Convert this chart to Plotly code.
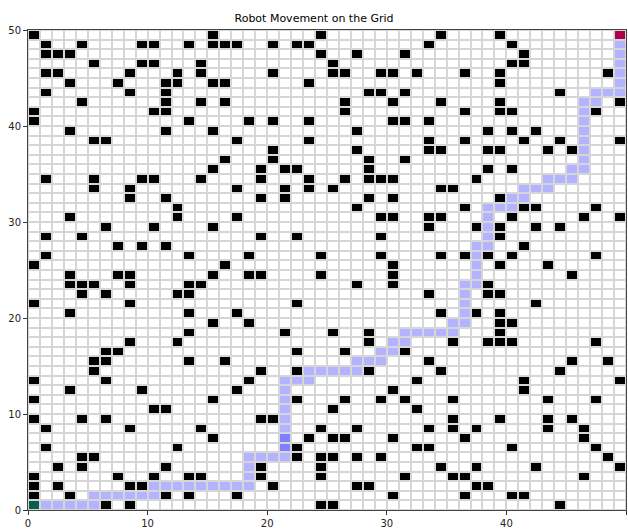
import numpy as np
import plotly.graph_objects as go

GRID_SIZE = 50

# Obstacle columns for each grid row (row index = y)
obstacles = {
    49: [0, 15, 24, 34, 39],
    48: [1, 4, 9, 10, 13, 15, 16, 17, 20, 22, 23, 33, 40],
    47: [1, 2, 3, 24, 27, 31, 41],
    46: [5, 9, 10, 14, 25, 40, 41],
    45: [1, 2, 8, 12, 14, 20, 25, 26, 29, 30, 32, 36, 39, 48],
    44: [3, 7, 11, 12, 15, 16, 23, 39],
    43: [1, 8, 11, 28, 29, 31, 44],
    42: [4, 11, 14, 16, 26, 30, 34, 39, 49],
    41: [0, 10, 11, 26, 36, 39, 40, 47],
    40: [0, 13, 18, 20, 23, 30, 31, 33],
    39: [3, 11, 15, 27, 38, 40, 42],
    38: [5, 6, 17, 23, 33, 36, 41, 44, 49],
    37: [20, 27, 33, 34, 38, 39, 43, 45],
    36: [16, 20, 28, 31],
    35: [15, 19, 21, 22, 28, 38, 40],
    34: [1, 5, 9, 10, 14, 19, 23, 26, 28, 29, 30, 37],
    33: [5, 8, 17, 21, 23, 25, 34, 35],
    32: [8, 11, 19, 21, 28, 30, 39],
    31: [12, 27, 36, 41, 42, 47],
    30: [3, 12, 17, 29, 30, 33, 34, 40, 46, 49],
    29: [6, 10, 15, 33, 37, 39, 42, 44],
    28: [1, 4, 19, 22, 29, 39],
    27: [7, 9, 11, 41],
    26: [1, 13, 18, 24, 29, 34, 36, 38, 40, 47],
    25: [0, 16, 30, 39, 43],
    24: [3, 7, 8, 15, 18, 19, 24, 30, 45],
    23: [3, 4, 5, 8, 13, 14, 27, 30, 38],
    22: [4, 6, 12, 13, 33, 38, 39],
    21: [0, 8, 22, 42],
    20: [3, 13, 17, 34, 37, 39],
    19: [15, 18, 39, 40],
    18: [13, 21, 25, 28, 39],
    17: [8, 12, 28, 35, 38, 39, 40, 47],
    16: [6, 7, 22, 26, 31],
    15: [5, 6, 13, 16, 33, 45, 48],
    14: [5, 19, 22, 28, 34, 44],
    13: [0, 6, 18, 32, 41, 49],
    12: [3, 9, 17, 30, 41],
    11: [0, 15, 22, 26, 29, 31, 35, 43, 47],
    10: [10, 11, 25, 32],
    9: [0, 4, 6, 19, 20, 35, 39, 43, 45],
    8: [1, 8, 14, 24, 27, 33, 35, 37, 43, 46],
    7: [15, 23, 25, 26, 30, 36, 46],
    6: [1, 12, 22, 32, 33, 40, 47],
    5: [4, 5, 22, 24, 25, 27, 29, 48],
    4: [2, 4, 11, 19, 24, 34, 37, 42, 49],
    3: [0, 7, 10, 13, 14, 19, 24, 31, 35, 36, 46],
    2: [0, 2, 8, 9, 20, 27, 28, 37, 38],
    1: [0, 3, 11, 13, 17, 30, 36, 40, 41],
    0: [6, 8, 24, 25, 44],
}

# Cells visited by the robot, in order (start first, goal last)
path_x = [0, 1, 2, 3, 4, 5,
          5, 6, 7, 8, 9, 10,
          10, 11, 12, 13, 14, 15, 16, 17, 18,
          18, 18,
          18, 19, 20, 21,
          21, 21, 21, 21,
          21, 21, 21, 21, 21, 21,
          22, 23,
          23, 24, 25, 26, 27,
          27, 28, 29,
          29, 30,
          30, 31,
          31, 32, 33, 34, 35,
          35, 36,
          36, 36, 36, 36,
          37, 37, 37, 37, 37,
          38, 38, 38, 38, 38,
          39, 40,
          40, 41,
          41, 42, 43,
          43, 44, 45,
          45, 46,
          46, 46, 46, 46, 46, 46, 46,
          47, 47, 48, 49,
          49, 49, 49, 49, 49, 49]
path_y = [0, 0, 0, 0, 0, 0,
          1, 1, 1, 1, 1, 1,
          2, 2, 2, 2, 2, 2, 2, 2, 2,
          3, 4,
          5, 5, 5, 5,
          6, 7, 6, 7,
          8, 9, 10, 11, 12, 13,
          13, 13,
          14, 14, 14, 14, 14,
          15, 15, 15,
          16, 16,
          17, 17,
          18, 18, 18, 18, 18,
          19, 19,
          20, 21, 22, 23,
          23, 24, 25, 26, 27,
          27, 28, 29, 30, 31,
          31, 31,
          32, 32,
          33, 33, 33,
          34, 34, 34,
          35, 35,
          36, 37, 38, 39, 40, 41, 42,
          42, 43, 43, 43,
          44, 45, 46, 47, 48, 49]

# Cell codes: 0 free, 1 obstacle, 2 path, 3 path visited twice, 4 start, 5 goal
EMPTY, OBSTACLE, PATH, PATH_TWICE, START, GOAL = range(6)
grid = np.zeros((GRID_SIZE, GRID_SIZE), dtype=int)
for row, cols in obstacles.items():
    for c in cols:
        grid[row, c] = OBSTACLE

visits = {}
for x, y in zip(path_x, path_y):
    visits[(x, y)] = visits.get((x, y), 0) + 1
for (x, y), n in visits.items():
    grid[y, x] = PATH if n == 1 else PATH_TWICE
grid[path_y[0], path_x[0]] = START
grid[path_y[-1], path_x[-1]] = GOAL

colors = ["#ffffff", "#000000", "#b3b3ff", "#7f7fff", "#0b5d4b", "#b0004c"]
n = len(colors)
colorscale = []
for i, col in enumerate(colors):
    colorscale.append([i / n, col])
    colorscale.append([(i + 1) / n, col])

centers = np.arange(GRID_SIZE) + 0.5

fig = go.Figure(
    go.Heatmap(
        z=grid,
        x=centers,
        y=centers,
        zmin=-0.5,
        zmax=n - 0.5,
        colorscale=colorscale,
        showscale=False,
        xgap=2,
        ygap=2,
        hoverinfo="skip",
    )
)

axis_common = dict(
    range=[0, GRID_SIZE],
    tickvals=list(range(0, GRID_SIZE + 1, 10)),
    ticks="outside",
    ticklen=4,
    tickwidth=1,
    tickcolor="#333333",
    showgrid=False,
    zeroline=False,
    showline=True,
    linecolor="#444444",
    linewidth=1,
    mirror=True,
    tickfont=dict(family="DejaVu Sans", size=10, color="#222222"),
)

fig.update_layout(
    width=628,
    height=531,
    margin=dict(l=28, r=2, t=30, b=21),
    paper_bgcolor="white",
    plot_bgcolor="#d6d6d6",
    title=dict(
        text="Robot Movement on the Grid",
        x=0.5,
        xanchor="center",
        y=1 - 18 / 531,
        yanchor="middle",
        font=dict(family="DejaVu Sans", size=11, color="#000000"),
    ),
    xaxis=axis_common,
    yaxis=axis_common,
)

fig.write_html("out.html")
